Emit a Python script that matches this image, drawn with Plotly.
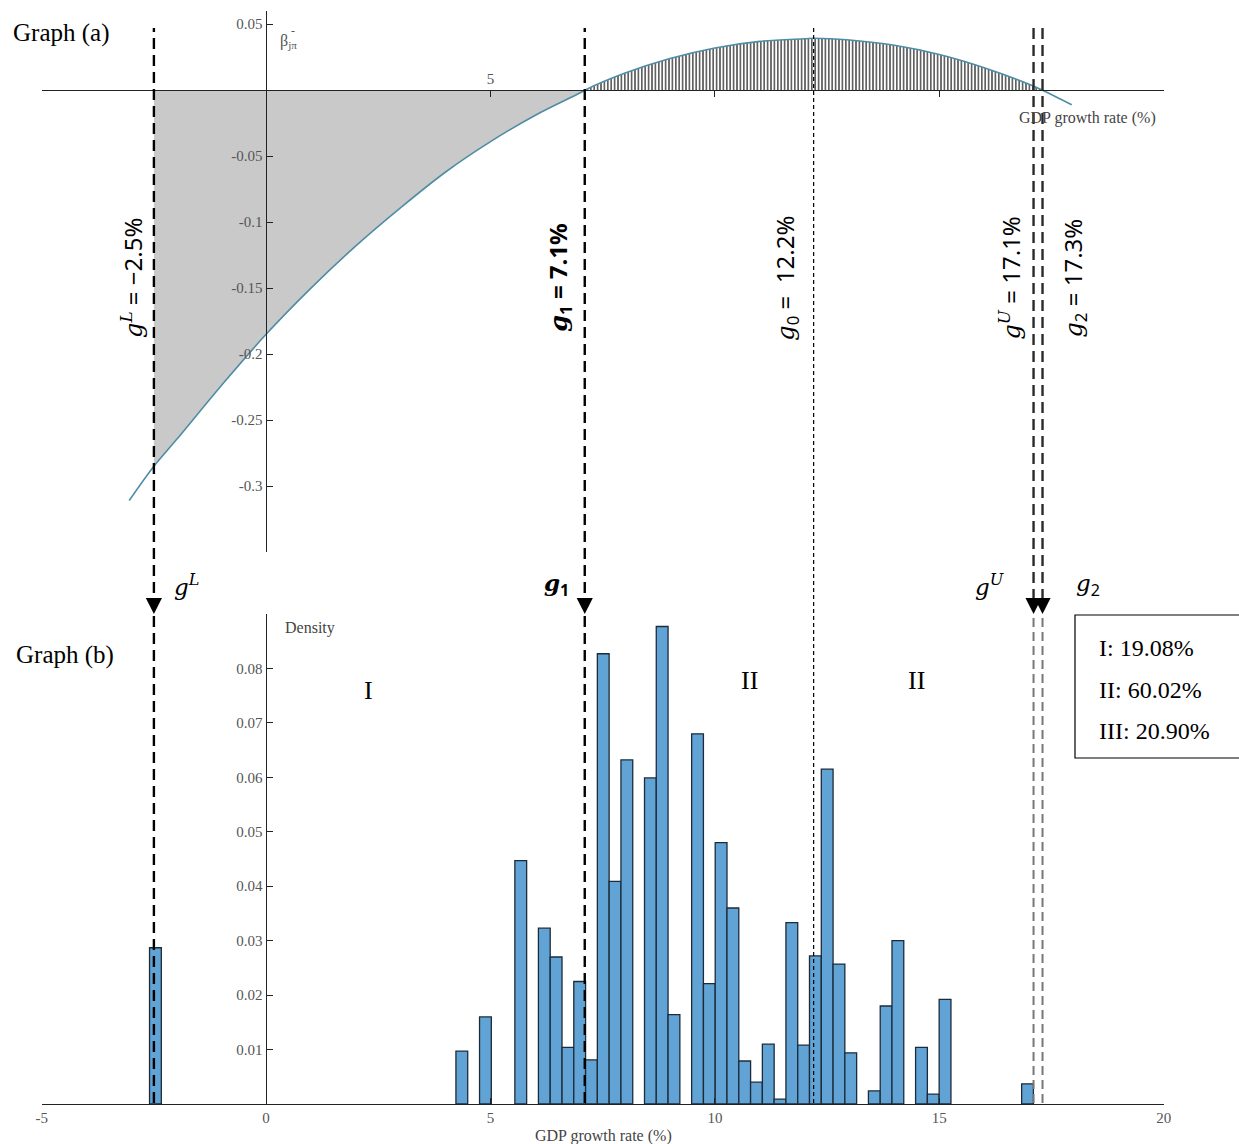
import plotly.graph_objects as go

W, H = 1239, 1144

# ---- threshold values (GDP growth rate, %) ----
g_L, g_1, g_0, g_U, g_2 = -2.5, 7.1, 12.2, 17.1, 17.3

# ---- Graph (a): coefficient curve ----
curve_g = [-3.05, -2.5, -2, -1, 0, 1, 2, 3, 4, 5, 6, 7, 7.1, 8, 9, 10, 11, 12, 12.2,
           13, 14, 15, 16, 17, 17.3, 17.95]
curve_beta = [-0.311, -0.285, -0.265, -0.224, -0.185, -0.150, -0.118, -0.089, -0.062,
              -0.039, -0.019, -0.002, 0.0, 0.013, 0.024, 0.032, 0.037, 0.039, 0.0394,
              0.038, 0.034, 0.027, 0.017, 0.0045, 0.0, -0.011]

# ---- Graph (b): histogram (density) ----
bin_width = 0.2626
hist_center = [-2.466, 4.361, 4.887, 5.674, 6.199, 6.462, 6.725, 6.987, 7.250, 7.512,
               7.775, 8.038, 8.563, 8.825, 9.088, 9.613, 9.876, 10.138, 10.401, 10.664,
               10.926, 11.189, 11.451, 11.714, 11.977, 12.239, 12.502, 12.764, 13.027,
               13.552, 13.815, 14.077, 14.603, 14.865, 15.128, 16.966]
hist_density = [0.0287, 0.0097, 0.0160, 0.0447, 0.0323, 0.0270, 0.0104, 0.0225, 0.0081,
                0.0827, 0.0409, 0.0632, 0.0599, 0.0877, 0.0164, 0.0680, 0.0221, 0.0480,
                0.0360, 0.0079, 0.0040, 0.0110, 0.0009, 0.0333, 0.0108, 0.0272, 0.0615,
                0.0257, 0.0094, 0.0024, 0.0180, 0.0300, 0.0104, 0.0018, 0.0192, 0.0037]

region_labels = ["I", "II", "II"]
region_x = [2.29, 10.77, 14.49]
share_text = ["I: 19.08%", "II: 60.02%", "III: 20.90%"]

x_ticks = [-5, 0, 5, 10, 15, 20]
top_y_ticks = [0.05, -0.05, -0.1, -0.15, -0.2, -0.25, -0.3]
bot_y_ticks = [0.01, 0.02, 0.03, 0.04, 0.05, 0.06, 0.07, 0.08]


def px(p):
    return p / W


def py(p):
    return 1 - p / H


SERIF = "Liberation Serif"
TICKFONT = dict(family=SERIF, size=15, color="#555")

fig = go.Figure()

# shaded negative region gL..g1
neg = [(g, b) for g, b in zip(curve_g, curve_beta) if g_L <= g <= g_1]
fig.add_trace(go.Scatter(x=[p[0] for p in neg], y=[p[1] for p in neg], mode="lines",
                         fill="tozeroy", fillcolor="#c9c9c9",
                         line=dict(width=0, shape="spline"), xaxis="x", yaxis="y",
                         hoverinfo="skip"))
# hatched positive region g1..g2
pos = [(g, b) for g, b in zip(curve_g, curve_beta) if g_1 <= g <= g_2]
fig.add_trace(go.Scatter(x=[p[0] for p in pos], y=[p[1] for p in pos], mode="lines",
                         fill="tozeroy", fillcolor="white",
                         fillpattern=dict(shape="|", fgcolor="#505050", bgcolor="white",
                                          size=3.4, solidity=0.45),
                         line=dict(width=0, shape="spline"), xaxis="x", yaxis="y",
                         hoverinfo="skip"))
# curve
fig.add_trace(go.Scatter(x=curve_g, y=curve_beta, mode="lines",
                         line=dict(color="#4f8ca5", width=1.6, shape="spline"),
                         xaxis="x", yaxis="y"))

# histogram bars
fig.add_trace(go.Bar(x=hist_center, y=hist_density, width=bin_width,
                     marker=dict(color="rgb(97,163,212)",
                                 line=dict(color="#1c2b3a", width=1.3)),
                     xaxis="x2", yaxis="y2"))

dom_x = [px(41.7), px(1163.7)]
axis_common = dict(showgrid=False, zeroline=False, showline=True, linecolor="#222",
                   linewidth=1, tickcolor="#222", ticks="inside", ticklen=6,
                   tickfont=TICKFONT, automargin=False)

fig.update_layout(
    template="none",
    width=W, height=H, margin=dict(l=0, r=0, t=0, b=0, pad=0), autosize=False,
    paper_bgcolor="white", plot_bgcolor="white", showlegend=False,
    xaxis=dict(domain=dom_x, range=[-5, 20], anchor="free", position=py(90),
               side="top", tickvals=[-5, 5, 10, 15, 20],
               ticktext=["", "5", "", "", ""], **axis_common),
    yaxis=dict(domain=[py(552), py(11)], range=[-0.35, 0.06], anchor="free",
               position=px(265.5), side="left",
               tickvals=top_y_ticks + [-0.35],
               ticktext=[("%g" % v) for v in top_y_ticks] + [""], **axis_common),
    xaxis2=dict(domain=dom_x, range=[-5, 20], anchor="y2", tickvals=x_ticks,
                ticktext=[str(v) for v in x_ticks], **axis_common),
    yaxis2=dict(domain=[py(1104), py(614)], range=[0, 0.09], anchor="free",
                position=px(265.5), side="left",
                tickvals=bot_y_ticks + [0.09],
                ticktext=[("%g" % v) for v in bot_y_ticks] + [""], **axis_common),
)

shapes = []
DASH_BIG = "11px,6px"
for g in [g_L, g_1]:
    shapes.append(dict(type="line", xref="x", yref="paper", x0=g, x1=g,
                       y0=py(1103), y1=py(28),
                       line=dict(color="black", width=2.4, dash=DASH_BIG)))
shapes.append(dict(type="line", xref="x", yref="paper", x0=g_0, x1=g_0,
                   y0=py(1103), y1=py(27),
                   line=dict(color="black", width=1.2, dash="4px,3px")))
for g in [g_U, g_2]:
    shapes.append(dict(type="line", xref="x", yref="paper", x0=g, x1=g,
                       y0=py(600), y1=py(28),
                       line=dict(color="#2a2a2a", width=2.4, dash=DASH_BIG)))
    shapes.append(dict(type="line", xref="x", yref="paper", x0=g, x1=g,
                       y0=py(1103), y1=py(614),
                       line=dict(color="#777", width=2.0, dash="9px,5px")))
# arrow heads
for g in [g_L, g_1, g_U, g_2]:
    hw = 0.18
    shapes.append(dict(type="path", xref="x", yref="paper",
                       path=f"M {g - hw},{py(598)} L {g + hw},{py(598)} L {g},{py(614)} Z",
                       fillcolor="black", line=dict(width=0)))
# share box
shapes.append(dict(type="rect", xref="paper", yref="paper", x0=px(1075), x1=px(1250),
                   y0=py(758), y1=py(615), line=dict(color="black", width=1.2),
                   fillcolor="rgba(0,0,0,0)"))
fig.update_layout(shapes=shapes)

ann = []
GF = "font-family:DejaVu Serif"


def gsym(sub="", sup=""):
    s = f'<span style="{GF}"><i>g</i></span>'
    if sup:
        s += f'<sup><span style="{GF}"><i>{sup}</i></span></sup>'
    if sub:
        s += f"<sub>{sub}</sub>"
    return s


MATH = dict(family="Noto Sans", size=24, color="black")

rot = [
    (g_L, -22, gsym(sup="L") + " = −2.5%", False),
    (g_1, -26, gsym(sub="1") + " = 7.1%", True),
    (g_0, -28, gsym(sub="0") + " =  12.2%", False),
    (g_U, -24, gsym(sup="U") + " = 17.1%", False),
    (g_2, 31, gsym(sub="2") + " = 17.3%", False),
]
for g, sh, txt, bold in rot:
    ann.append(dict(x=g, xref="x", y=py(278), yref="paper", xshift=sh, textangle=-90,
                    text=(f"<b>{txt}</b>" if bold else txt), showarrow=False,
                    font=MATH, xanchor="center", yanchor="middle"))

near = [
    (g_L, 33, gsym(sup="L"), False),
    (g_1, -28, gsym(sub="1"), True),
    (g_U, -44, gsym(sup="U"), False),
    (g_2, 45, gsym(sub="2"), False),
]
for g, sh, txt, bold in near:
    ann.append(dict(x=g, xref="x", y=py(585), yref="paper", xshift=sh,
                    text=(f"<b>{txt}</b>" if bold else txt), showarrow=False,
                    font=dict(family="Noto Sans", size=23, color="black"),
                    xanchor="center", yanchor="middle"))

ann.append(dict(x=px(11), y=py(33), xref="paper", yref="paper", text="Graph (a)",
                showarrow=False, xanchor="left", yanchor="middle",
                font=dict(family=SERIF, size=25, color="black")))
ann.append(dict(x=px(14), y=py(655), xref="paper", yref="paper", text="Graph (b)",
                showarrow=False, xanchor="left", yanchor="middle",
                font=dict(family=SERIF, size=25, color="black")))

for lab, gx, yy in zip(region_labels, region_x, [690, 680, 680]):
    ann.append(dict(x=gx, xref="x2", y=py(yy), yref="paper", text=lab, showarrow=False,
                    xanchor="center", yanchor="middle",
                    font=dict(family=SERIF, size=26, color="black")))

for t, yy in zip(share_text, [648, 690, 731]):
    ann.append(dict(x=px(1097), y=py(yy), xref="paper", yref="paper", text=t,
                    showarrow=False, xanchor="left", yanchor="middle",
                    font=dict(family=SERIF, size=24, color="black")))

ann.append(dict(x=px(1158), y=py(118), xref="paper", yref="paper",
                text="GDP growth rate (%)", showarrow=False, xanchor="right",
                yanchor="middle", font=dict(family=SERIF, size=16, color="#444")))
ann.append(dict(x=px(603), y=py(1136), xref="paper", yref="paper",
                text="GDP growth rate (%)", showarrow=False, xanchor="center",
                yanchor="middle", font=dict(family=SERIF, size=16, color="#444")))
ann.append(dict(x=px(283), y=py(628), xref="paper", yref="paper", text="Density",
                showarrow=False, xanchor="left", yanchor="middle",
                font=dict(family=SERIF, size=16, color="#444")))
ann.append(dict(x=px(278), y=py(42), xref="paper", yref="paper",
                text="β<sub>jπ</sub>", showarrow=False, xanchor="left",
                yanchor="middle", font=dict(family=SERIF, size=16, color="#555")))
ann.append(dict(x=px(289), y=py(31), xref="paper", yref="paper",
                text="-", showarrow=False, xanchor="left",
                yanchor="middle", font=dict(family=SERIF, size=12, color="#555")))

fig.update_layout(annotations=ann)
fig.write_html("out.html")
